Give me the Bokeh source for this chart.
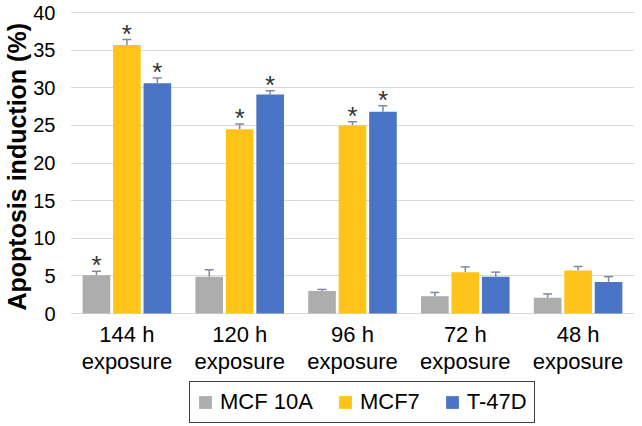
from bokeh.plotting import figure
from bokeh.models import (ColumnDataSource, FactorRange, Range1d, Whisker, TeeHead, Legend,
                          LegendItem, FixedTicker, Title)
from bokeh.transform import dodge
from bokeh.core.properties import value
from bokeh.embed import file_html
from bokeh.resources import INLINE

categories = ["144 h", "120 h", "96 h", "72 h", "48 h"]
category_labels = ["144 h\nexposure", "120 h\nexposure", "96 h\nexposure", "72 h\nexposure", "48 h\nexposure"]
series_names = ["MCF 10A", "MCF7", "T-47D"]

mcf10a = [5.1, 4.9, 3.0, 2.3, 2.1]
mcf10a_err = [0.5, 0.9, 0.2, 0.5, 0.5]
mcf10a_sig = [True, False, False, False, False]

mcf7 = [35.7, 24.5, 25.0, 5.5, 5.7]
mcf7_err = [0.7, 0.7, 0.5, 0.7, 0.55]
mcf7_sig = [True, True, True, False, False]

t47d = [30.6, 29.1, 26.8, 4.9, 4.2]
t47d_err = [0.7, 0.5, 0.8, 0.6, 0.7]
t47d_sig = [True, True, True, False, False]

y_ticks = [0, 5, 10, 15, 20, 25, 30, 35, 40]

colors = ["#ADADAD", "#FFC31A", "#4A75C7"]
offsets = [-0.27, 0.0, 0.27]
FONT = "Liberation Sans"

# frame reaches the bottom of the page so that the legend can sit inside it
p = figure(width=634, height=424, x_range=FactorRange(*categories, range_padding=0),
           y_range=Range1d(-14.75, 41.2), output_backend="svg", toolbar_location=None,
           x_axis_location=None,
           min_border_left=62, min_border_right=0, min_border_top=3, min_border_bottom=0)
p.outline_line_color = None
p.xgrid.grid_line_color = None
p.ygrid.grid_line_color = "#D9D9D9"
p.ygrid.grid_line_width = 1
p.ygrid.ticker = FixedTicker(ticks=y_ticks)

p.yaxis.ticker = FixedTicker(ticks=y_ticks)
p.yaxis.axis_line_color = None
p.yaxis.major_tick_line_color = None
p.yaxis.minor_tick_line_color = None
p.yaxis.major_label_text_font = FONT
p.yaxis.major_label_text_font_size = "20px"
p.yaxis.major_label_text_color = "#000000"
p.yaxis.major_label_standoff = 9

p.add_layout(Title(text="Apoptosis induction (%)", align="left", offset=114, standoff=0,
                   text_font=FONT, text_font_style="bold", text_font_size="25px",
                   text_color="#000000"), "left")

data = [(mcf10a, mcf10a_err, mcf10a_sig), (mcf7, mcf7_err, mcf7_sig), (t47d, t47d_err, t47d_sig)]
items = []
for (vals, errs, sig), name, col, off in zip(data, series_names, colors, offsets):
    src = ColumnDataSource(dict(x=categories, top=vals,
                                upper=[v + e for v, e in zip(vals, errs)]))
    r = p.vbar(x=dodge("x", off, range=p.x_range), top="top", width=0.245, source=src,
               fill_color=col, line_color=None)
    items.append(LegendItem(label=name, renderers=[r]))
    w = Whisker(base=dodge("x", off, range=p.x_range), lower="top", upper="upper", source=src,
                line_color="#7D8BA0", line_width=1.5, lower_head=None,
                upper_head=TeeHead(size=9, line_color="#7D8BA0", line_width=1.5))
    p.add_layout(w)
    ssrc = ColumnDataSource(dict(x=[c for c, s in zip(categories, sig) if s],
                                 y=[v + e for v, e, s in zip(vals, errs, sig) if s]))
    p.text(x=dodge("x", off, range=p.x_range), y="y", text=value("*"), source=ssrc,
           text_align="center", text_baseline="alphabetic", y_offset=-6,
           text_font=value(FONT), text_font_size="26px", text_color="#333333")

# category labels under the zero line
lsrc = ColumnDataSource(dict(x=categories, y=[0] * len(categories), label=category_labels))
p.text(x="x", y="y", text="label", source=lsrc, text_align="center", text_baseline="top",
       y_offset=8, text_line_height=1.1, text_font=value(FONT), text_font_size="22px",
       text_color="#000000")

legend = Legend(items=items, orientation="horizontal", location=(119, 1),
                border_line_color="#404040", border_line_width=1, border_line_alpha=1,
                background_fill_color="#FFFFFF", background_fill_alpha=1,
                label_text_font=FONT, label_text_font_size="22px", label_text_color="#000000",
                glyph_width=16, glyph_height=16, label_standoff=7, spacing=24,
                padding=7, margin=0)
p.add_layout(legend, "center")

open("out.html", "w").write(file_html(p, INLINE))
